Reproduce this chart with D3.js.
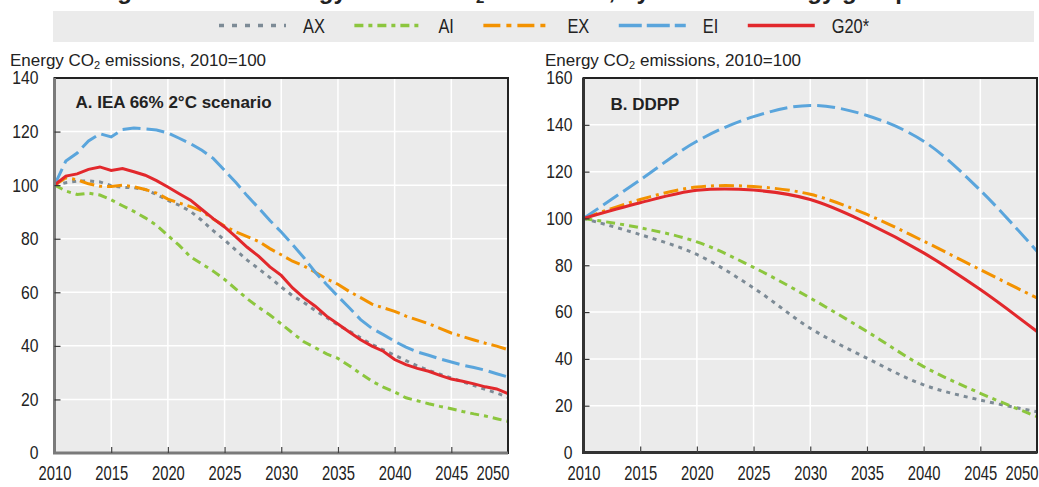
<!DOCTYPE html>
<html><head><meta charset="utf-8">
<script src="https://cdn.jsdelivr.net/npm/d3@7/dist/d3.min.js"></script>
<style>
body{margin:0;background:#fff;}
svg{display:block;font-family:"Liberation Sans",Arial,sans-serif;}
</style></head><body>
<svg id="chart" width="1039" height="487"></svg>
<script>
// ---------------- DATA ----------------
const seriesNames = ["AX", "AI", "EX", "EI", "G20*"];
const legendLabels = ["AX", "AI", "EX", "EI", "G20*"];
const yearsA = d3.range(2010, 2051);           // yearly, 2010..2050
const yearsB = [2010, 2015, 2020, 2025, 2030, 2035, 2040, 2045, 2050];
const xTickYears = [2010, 2015, 2020, 2025, 2030, 2035, 2040, 2045, 2050];
const yTicksA = [0, 20, 40, 60, 80, 100, 120, 140];
const yTicksB = [0, 20, 40, 60, 80, 100, 120, 140, 160];

// Panel A: IEA 66% 2°C scenario (2010=100)
const A_AX = [100,100.9,101.5,101.6,101.2,99.8,99.2,99,98.4,96.5,94.3,92.5,90.2,86.8,83,79.5,75.7,72,68.8,65.5,62,58.7,56.2,53.2,50.6,47.8,45.5,43,40.5,38.5,36.5,34.5,32.5,30.8,29.4,28,26.6,25.2,23.7,22.4,20.8];
const A_AI = [100,97.8,96.5,97,96.3,94.5,92.3,90.2,87.8,85,81.2,77.5,73.2,70.6,67.9,64.8,61.2,57.6,54.4,51.5,48.2,44.8,41.5,39.3,37,35.3,32.6,29.6,26.8,24.6,22.8,20.6,19.5,18.4,17.4,16.5,15.5,14.6,13.8,12.8,11.8];
const A_EX = [100,102.8,102,100.5,99.6,99.5,100,99.4,98.4,97,94.8,93.3,92,90.3,87.4,84.7,82.6,80.8,79,76.3,74,71.6,69.8,67.5,65,63,60.3,58,55.6,54.2,52.9,51.1,49.7,48.3,46.5,44.8,43.5,42.2,41,39.9,38.6];
const A_EI = [100,109,112,116.5,119.2,118,120.8,121.3,121,120.6,119.5,117.5,115.5,113,110,105.5,101,96,91.5,86.8,82.5,77.8,72.9,67.5,62.9,58.5,54.2,49.8,46.5,44.2,41.7,39.5,37.7,36.5,35.1,34,32.8,31.9,30.9,29.6,28.4];
const A_G20 = [100,103.4,104.2,105.9,106.8,105.5,106.2,105,103.7,101.7,99.3,96.8,94.4,90.9,87.5,84.4,80.7,76.8,73.5,69.5,66.3,61.6,57.9,54.8,51.1,48.2,45.2,42.3,39.9,38,34.9,33,31.6,30.5,29,27.6,26.8,25.8,24.7,23.9,22.2];

// Panel B: DDPP (2010=100), five-yearly
const B_AX = [100,93.1,84.6,70.3,53.1,40.3,28.9,22.4,17.4];
const B_AI = [100,96,90,79.1,66,51.7,36.7,25.3,15.3];
const B_EX = [100,108.1,113.4,113.6,110.3,101.7,90.3,78.1,66];
const B_EI = [100,116.5,133,143.5,148.3,144,133,112,86];
const B_G20 = [100,106.7,112,112.1,108.1,98.1,85.3,69.6,51.7];

// ---------------- STYLE ----------------
const colors = ["#7d8b96", "#8cc63e", "#f39200", "#5aa5dc", "#e2282c"];
const dashPlot = ["4,5", "9,5,4,5", "15,5,3,5", "18,6", null];
const dashLegend = ["5,8", "9,5,4,5", "17,6,5,6", "23,5", null];

const svg = d3.select("#chart");

// horizontally condense a text selection around its own x anchor
function condense(sel, k) {
  sel.each(function () {
    const t = d3.select(this);
    const x = +t.attr("x") || 0;
    t.attr("transform", `translate(${x * (1 - k)},0) scale(${k},1)`);
  });
}

// cut-off figure title
svg.append("text")
  .attr("x", 96).attr("y", -1)
  .style("font-weight", "bold").style("font-size", "24px").attr("fill", "#222")
  .text("Figure 1.2. Net energy-related CO")
  .append("tspan").attr("dy", 4).style("font-size", "15px").text("2")
  .append("tspan").attr("dy", -4).style("font-size", "24px").text(" emissions, by member energy group");

// legend
const leg = svg.append("g");
leg.append("rect").attr("x", 53).attr("y", 11).attr("width", 981).attr("height", 31).attr("fill", "#ebebeb");
const kLeg = 0.82;
let lx = 219;
seriesNames.forEach((s, i) => {
  leg.append("line").attr("x1", lx).attr("x2", lx + 67).attr("y1", 25.5).attr("y2", 25.5)
    .attr("stroke", colors[i]).attr("stroke-width", 3.5)
    .attr("stroke-dasharray", dashLegend[i]);
  const t = leg.append("text").attr("x", lx + 84).attr("y", 25.5).attr("dy", "0.36em")
    .style("font-size", "20px").attr("fill", "#222").text(legendLabels[i]);
  const w = t.node().getComputedTextLength() * kLeg;
  condense(t, kLeg);
  lx += 84 + w + 29.5;
});

function panel(cfg) {
  const g = svg.append("g");
  const x = d3.scaleLinear().domain([2010, 2050]).range([cfg.left, cfg.right]);
  const y = d3.scaleLinear().domain([0, cfg.ymax]).range([cfg.bottom, cfg.top]);
  const clipId = "clip" + cfg.id;
  svg.append("defs").append("clipPath").attr("id", clipId)
    .append("rect").attr("x", cfg.left).attr("y", cfg.top)
    .attr("width", cfg.right - cfg.left).attr("height", cfg.bottom - cfg.top);

  g.append("rect").attr("x", cfg.left).attr("y", cfg.top)
    .attr("width", cfg.right - cfg.left).attr("height", cfg.bottom - cfg.top)
    .attr("fill", "#ebebeb");
  // grid
  g.append("g").selectAll("line").data(cfg.yTicks.slice(1, -1)).join("line")
    .attr("x1", cfg.left).attr("x2", cfg.right).attr("y1", d => y(d)).attr("y2", d => y(d))
    .attr("stroke", "#fff").attr("stroke-width", 1.5);
  g.append("g").selectAll("line").data(xTickYears.slice(1, -1)).join("line")
    .attr("y1", cfg.top).attr("y2", cfg.bottom).attr("x1", d => x(d)).attr("x2", d => x(d))
    .attr("stroke", "#fff").attr("stroke-width", 1.5);

  // series
  const line = d3.line().x(d => x(d[0])).y(d => y(d[1])).curve(cfg.curve);
  const lg = g.append("g").attr("clip-path", `url(#${clipId})`);
  cfg.series.forEach((vals, i) => {
    lg.append("path").datum(cfg.years.map((yr, j) => [yr, vals[j]]))
      .attr("d", line).attr("fill", "none")
      .attr("stroke", colors[i]).attr("stroke-width", 3)
      .attr("stroke-dasharray", dashPlot[i]);
  });

  // frame
  g.append("rect").attr("x", cfg.left).attr("y", cfg.top)
    .attr("width", cfg.right - cfg.left).attr("height", cfg.bottom - cfg.top)
    .attr("fill", "none").attr("stroke", "#222").attr("stroke-width", 2);
  g.append("path").attr("d", `M${cfg.left},${cfg.top}V${cfg.bottom}H${cfg.right}`)
    .attr("fill", "none").attr("stroke", cfg.axisColor).attr("stroke-width", 3);

  // axes with D3
  const yAxis = d3.axisLeft(y).tickValues(cfg.yTicks).tickSize(-6).tickPadding(cfg.yPad).tickFormat(d3.format("d"));
  const ya = g.append("g").attr("transform", `translate(${cfg.left},0)`).call(yAxis);
  ya.select(".domain").remove();
  ya.selectAll(".tick line").attr("stroke", "#333").attr("stroke-width", 1.2)
    .filter(d => d === 0 || d === cfg.ymax).remove();
  ya.selectAll("text").style("font-size", "18.5px").attr("fill", "#222").style("font-family", null);
  condense(ya.selectAll("text"), 0.85);

  const xAxis = d3.axisBottom(x).tickValues(xTickYears).tickSize(-6).tickPadding(13).tickFormat(d3.format("d"));
  const xa = g.append("g").attr("transform", `translate(0,${cfg.bottom})`).call(xAxis);
  xa.select(".domain").remove();
  xa.selectAll(".tick line").attr("stroke", "#444").attr("stroke-width", 1.2)
    .filter(d => d === 2010 || d === 2050).remove();
  xa.selectAll("text").style("font-size", "20px").attr("fill", "#222").style("font-family", null);
  xa.selectAll(".tick").filter(d => d === 2050).select("text")
    .attr("text-anchor", "end").attr("x", cfg.right - x(2050) + 1);
  condense(xa.selectAll("text"), 0.74);

  // y-axis title
  const yt = svg.append("text").attr("x", cfg.titleX).attr("y", 65.5)
    .style("font-size", "17px").attr("fill", "#222").text("Energy CO");
  yt.append("tspan").attr("dy", 3).style("font-size", "11px").text("2");
  yt.append("tspan").attr("dy", -3).text(" emissions, 2010=100");

  // panel title
  svg.append("text").attr("x", cfg.left + cfg.labelDx).attr("y", cfg.labelY)
    .style("font-size", "17px").style("font-weight", "bold").attr("fill", "#222").text(cfg.label);
}

panel({ id: "A", left: 54.5, right: 508, top: 78, bottom: 453, ymax: 140, yTicks: yTicksA,
  years: yearsA, series: [A_AX, A_AI, A_EX, A_EI, A_G20], curve: d3.curveLinear,
  axisColor: "#7a7a7a", yPad: 16, titleX: 10, label: "A. IEA 66% 2°C scenario", labelDx: 21, labelY: 108 });
panel({ id: "B", left: 583.5, right: 1037, top: 78, bottom: 452.5, ymax: 160, yTicks: yTicksB,
  years: yearsB, series: [B_AX, B_AI, B_EX, B_EI, B_G20], curve: d3.curveCatmullRom.alpha(0.5),
  axisColor: "#333", yPad: 11, titleX: 545, label: "B. DDPP", labelDx: 27, labelY: 110 });
</script>
</body></html>
